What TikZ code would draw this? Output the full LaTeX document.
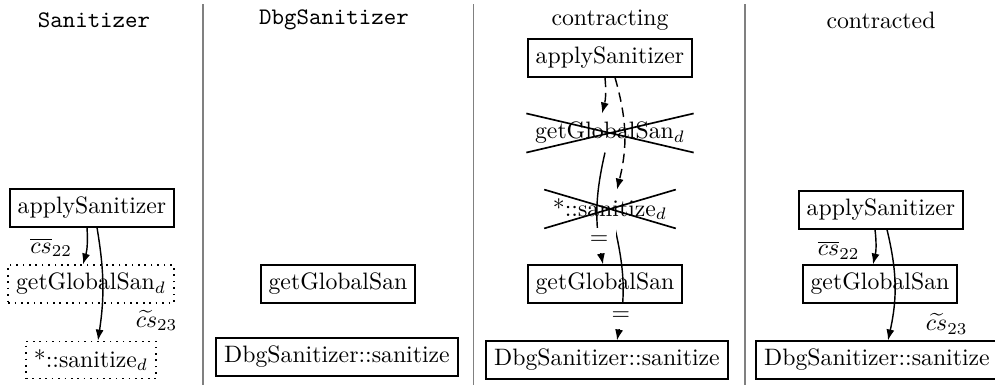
\documentclass[tikz,border=0pt]{standalone}
\usetikzlibrary{shapes.misc,arrows.meta,calc}
\begin{document}
\begin{tikzpicture}[x=0.421pt,y=-0.421pt, line width=0.6pt,
  box/.style={draw, rectangle, inner sep=3.33pt, line width=0.7pt},
  ghost/.style={draw, dotted, rectangle, inner sep=3.33pt, line width=0.7pt},
  gone/.style={draw, cross out, inner sep=3.33pt, line width=0.7pt},
  call/.style={-{Latex[length=4.6pt,width=3.4pt]}},
  hyp/.style={call, dash pattern=on 4pt off 2.5pt},
  sep/.style={draw=gray, line width=0.6pt},
  eqlab/.style={fill=white, pos=0.8},
  lab/.style={pos=0.5, inner sep=1pt}
]
\useasboundingbox (0,0) rectangle (995,388);
% separators
\draw[sep] (203,4) -- (203,385);
\draw[sep] (473.5,4) -- (473.5,385);
\draw[sep] (745,4) -- (745,385);
% titles
\node (t1) at (94,20) {\texttt{Sanitizer}};
\node (t2) at (334,20) {\texttt{DbgSanitizer}};
\node (t3) at (610,20) {contracting};
\node (t4) at (881,20) {contracted};
% column 1
\node[box] (a1) at (92,208) {applySanitizer};
\node[ghost] (g1) at (91,284) {getGlobalSan$_d$};
\node[ghost] (s1) at (91,360) {*::sanitize$_d$};
\draw[call] ($(a1.south)+(-5,0)$) to[bend left=10]
  node[lab, xshift=-15pt, yshift=-0.6pt] (l1) {$\overline{cs}_{22}$} ($(g1.north)+(-8,0)$);
\draw[call] ($(a1.south)+(5,0)$) to[bend left=9]
  node[lab, pos=0.85, xshift=23.6pt, yshift=0.6pt] (l2) {$\widetilde{cs}_{23}$} ($(s1.north)+(7,0)$);
% column 2
\node[box] (g2) at (338,284) {getGlobalSan};
\node[box] (d2) at (337,357) {DbgSanitizer::sanitize};
% column 3
\node[box] (a3) at (610,58) {applySanitizer};
\node[gone] (g3) at (610,133) {getGlobalSan$_d$};
\node[gone] (s3) at (610,209) {*::sanitize$_d$};
\node[box] (gg3) at (605,284) {getGlobalSan};
\node[box] (d3) at (607,360) {DbgSanitizer::sanitize};
\draw[hyp] ($(a3.south)+(-5,0)$) to[bend left=10] ($(g3.north)+(-8,0)$);
\draw[hyp] ($(a3.south)+(5,0)$) to[bend left=15] ($(s3.north)+(7,0)$);
\draw[call] ($(s3.south)+(5,0)$) to[bend left=12]
  node[eqlab] (e2) {=} ($(d3.north)+(10,0)$);
\draw[call] ($(g3.south)+(-5,0)$) to[bend right=12]
  node[eqlab] (e1) {=} ($(gg3.north)+(-2,0)$);
% column 4
\node[box] (a4) at (881,210) {applySanitizer};
\node[box] (g4) at (880,284) {getGlobalSan};
\node[box] (d4) at (877,360) {DbgSanitizer::sanitize};
\draw[call] ($(a4.south)+(-6,0)$) to[bend left=10]
  node[lab, xshift=-15.6pt, yshift=-1.3pt] (l3) {$\overline{cs}_{22}$} ($(g4.north)+(-7,0)$);
\draw[call] ($(a4.south)+(6,0)$) to[bend left=13]
  node[lab, pos=0.85, xshift=23.2pt, yshift=-0.6pt] (l4) {$\widetilde{cs}_{23}$} ($(d4.north)+(11,0)$);
\end{tikzpicture}
\end{document}
